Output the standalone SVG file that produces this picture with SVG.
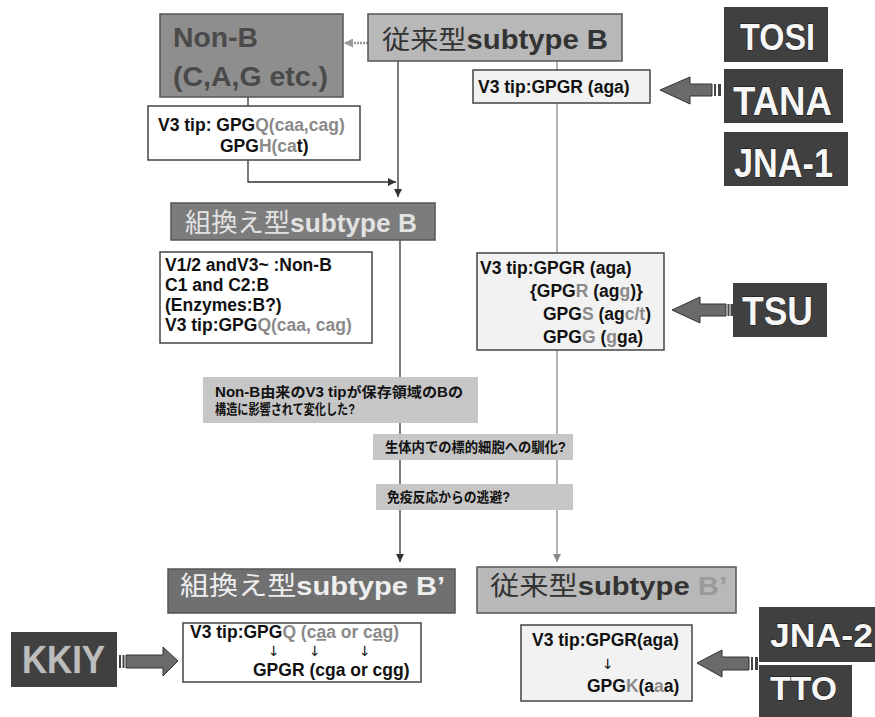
<svg xmlns="http://www.w3.org/2000/svg" width="875" height="717" viewBox="0 0 875 717">
<defs>
<style>
text { font-family: "Liberation Sans", "Noto Sans CJK JP", sans-serif; font-weight: bold; }
.jp { font-weight: normal; }
.t { font-size: 17.5px; fill: #111; }
.g { fill: #8a8a8a; }
.ar { font-family: "DejaVu Sans", sans-serif; font-weight: normal; font-size: 14px; fill: #111; }
.box { fill: #fff; stroke: #444; stroke-width: 1.5; }
.boxs { fill: #f2f2f2; stroke: #444; stroke-width: 1.5; }
.lbl { fill: #404040; }
.lt { fill: #f7f7f7; stroke: #111; stroke-width: 1; paint-order: stroke; }
.note { fill: #c6c6c6; }
.nt { font-size: 14px; fill: #111; }
.ln { fill: none; stroke: #333; stroke-width: 1.3; }
.ln2 { fill: none; stroke: #8a8a8a; stroke-width: 1.3; }
.ba { fill: #6a6a6a; stroke: #333; stroke-width: 1; }
.st { fill: #444; }
</style>
<marker id="ah" viewBox="0 0 10 10" refX="10" refY="5" markerWidth="8" markerHeight="8" markerUnits="userSpaceOnUse" orient="auto"><path d="M0,0 L10,5 L0,10 z" fill="#333"/></marker>
<marker id="ahg" viewBox="0 0 10 10" refX="10" refY="5" markerWidth="8" markerHeight="8" markerUnits="userSpaceOnUse" orient="auto"><path d="M0,0 L10,5 L0,10 z" fill="#888"/></marker>
<marker id="ahd" viewBox="0 0 10 10" refX="10" refY="5" markerWidth="9" markerHeight="9" markerUnits="userSpaceOnUse" orient="auto"><path d="M0,0 L10,5 L0,10 z" fill="#999"/></marker>
</defs>
<rect width="875" height="717" fill="#fff"/>

<g id="connectors">
  <path class="ln2" d="M557,61 V562" marker-end="url(#ahg)"/>
  <path class="ln" d="M398,61 V197" marker-end="url(#ah)"/>
  <path class="ln" d="M400,240 V562" marker-end="url(#ah)"/>
  <path d="M368,43 H344" fill="none" stroke="#999" stroke-width="2.5" stroke-dasharray="2,1" marker-end="url(#ahd)"/>
  <path class="ln" d="M248,97 V106"/>
  <path class="ln" d="M248,160 V182 H396" marker-end="url(#ah)"/>
  <g id="arrow-tana">
    <polygon class="ba" points="660,90 690,77 690,84 712,84 712,96 690,96 690,104"/>
    <rect class="st" x="714" y="84" width="2" height="12"/>
    <rect class="st" x="718" y="84" width="3" height="12"/>
  </g>
  <g id="arrow-tsu">
    <polygon class="ba" points="672,310 700,297 700,304 726,304 726,316 700,316 700,323"/>
    <rect class="st" x="727.5" y="304" width="2" height="12"/>
    <rect class="st" x="730.5" y="304" width="2.5" height="12"/>
  </g>
  <g id="arrow-kkiy">
    <rect class="st" x="119" y="655" width="2" height="13"/>
    <rect class="st" x="122.5" y="655" width="2" height="13"/>
    <polygon class="ba" points="178,661 163,647 163,655 126,655 126,668 163,668 163,676"/>
  </g>
  <g id="arrow-jna2">
    <polygon class="ba" points="697,663 722,650 722,657 749,657 749,670 722,670 722,677"/>
    <rect class="st" x="751" y="657" width="2" height="13"/>
    <rect class="st" x="755" y="657" width="3" height="13"/>
  </g>
</g>

<g id="node-nonB">
  <rect x="160" y="14" width="183" height="83" fill="#8e8e8e" stroke="#555" stroke-width="1.5"/>
  <text x="173" y="47" font-size="27" fill="#4a4a4a" textLength="85" lengthAdjust="spacingAndGlyphs">Non-B</text>
  <text x="173" y="86" font-size="27" fill="#4a4a4a" textLength="155" lengthAdjust="spacingAndGlyphs">(C,A,G etc.)</text>
</g>

<g id="node-juraiB">
  <rect x="368" y="14" width="254" height="47" fill="#b8b8b8" stroke="#555" stroke-width="1.5"/>
  <text x="382" y="49" font-size="27" fill="#333" textLength="226" lengthAdjust="spacingAndGlyphs"><tspan class="jp" font-size="26">従来型</tspan>subtype B</text>
</g>

<g id="node-v3-nonB">
  <rect class="box" x="148" y="106" width="212" height="54"/>
  <text class="t" x="158" y="131">V3 tip: GPG<tspan class="g">Q(caa,cag)</tspan></text>
  <text class="t" x="220" y="152">GPG<tspan class="g">H(ca</tspan>t)</text>
</g>

<g id="node-v3-aga">
  <rect class="boxs" x="473" y="70" width="177" height="33"/>
  <text class="t" x="478" y="93" font-size="18">V3 tip:GPGR (aga)</text>
</g>

<g id="node-TOSI">
  <rect class="lbl" x="724" y="7" width="104" height="55"/>
  <text class="lt" x="740" y="50" font-size="37" textLength="75" lengthAdjust="spacingAndGlyphs">TOSI</text>
</g>
<g id="node-TANA">
  <rect class="lbl" x="724" y="69" width="119" height="54"/>
  <text class="lt" x="733" y="115" font-size="40" textLength="99" lengthAdjust="spacingAndGlyphs">TANA</text>
</g>
<g id="node-JNA1">
  <rect class="lbl" x="724" y="132" width="124" height="54"/>
  <text class="lt" x="734" y="177" font-size="40" textLength="99" lengthAdjust="spacingAndGlyphs">JNA-1</text>
</g>

<g id="node-kumikaeB">
  <rect x="171" y="203" width="264" height="37" fill="#7c7c7c" stroke="#555" stroke-width="1.5"/>
  <text x="185" y="232" font-size="26" fill="#e2e2e2" textLength="232" lengthAdjust="spacingAndGlyphs"><tspan class="jp" font-size="26">組換え型</tspan>subtype B</text>
</g>

<g id="node-v12">
  <rect class="box" x="160" y="252" width="212" height="91"/>
  <text class="t" x="165" y="271">V1/2 andV3~ :Non-B</text>
  <text class="t" x="165" y="291">C1 and C2:B</text>
  <text class="t" x="165" y="311">(Enzymes:B?)</text>
  <text class="t" x="165" y="331">V3 tip:GPG<tspan class="g">Q(caa, cag)</tspan></text>
</g>

<g id="node-v3-tsu">
  <rect class="boxs" x="477" y="253" width="187" height="97"/>
  <text class="t" x="480" y="274" font-size="18.5">V3 tip:GPGR (aga)</text>
  <text class="t" x="530" y="297" font-size="18.5">{GPG<tspan class="g">R</tspan> (ag<tspan class="g">g</tspan>)}</text>
  <text class="t" x="543" y="320" font-size="18.5">GPG<tspan class="g">S</tspan> (ag<tspan class="g">c/t</tspan>)</text>
  <text class="t" x="543" y="343" font-size="18.5">GPG<tspan class="g">G</tspan> (<tspan class="g">g</tspan>ga)</text>
</g>

<g id="node-TSU">
  <rect class="lbl" x="733" y="283" width="94" height="54"/>
  <text class="lt" x="742" y="325" font-size="40" textLength="71" lengthAdjust="spacingAndGlyphs">TSU</text>
</g>

<g id="note-1">
  <rect class="note" x="203" y="377" width="275" height="46"/>
  <text class="nt" x="215" y="397" textLength="248" lengthAdjust="spacingAndGlyphs">Non-B由来のV3 tipが保存領域のBの</text>
  <text class="nt" x="215" y="414" textLength="140" lengthAdjust="spacingAndGlyphs">構造に影響されて変化した?</text>
</g>
<g id="note-2">
  <rect class="note" x="373" y="434" width="200" height="26"/>
  <text class="nt" x="385" y="452" font-size="13.5" font-weight="normal" textLength="181" lengthAdjust="spacingAndGlyphs">生体内での標的細胞への馴化?</text>
</g>
<g id="note-3">
  <rect class="note" x="376" y="484" width="197" height="26"/>
  <text class="nt" x="387" y="502" font-size="13.5" font-weight="normal" textLength="123" lengthAdjust="spacingAndGlyphs">免疫反応からの逃避?</text>
</g>

<g id="node-kumikaeB2">
  <rect x="168" y="569" width="287" height="44" fill="#707070" stroke="#555" stroke-width="1.5"/>
  <text x="180" y="595" font-size="26" fill="#eeeeee" textLength="265" lengthAdjust="spacingAndGlyphs"><tspan class="jp" font-size="26">組換え型</tspan>subtype B’</text>
</g>

<g id="node-juraiB2">
  <rect x="477" y="567" width="259" height="46" fill="#b8b8b8" stroke="#555" stroke-width="1.5"/>
  <text x="490" y="595" font-size="26" fill="#333" textLength="237" lengthAdjust="spacingAndGlyphs"><tspan class="jp" font-size="26">従来型</tspan>subtype <tspan fill="#9a9a9a">B’</tspan></text>
</g>

<g id="node-KKIY">
  <rect class="lbl" x="11" y="632" width="106" height="55"/>
  <text x="22" y="673" font-size="38" fill="#bdbdbd" stroke="#555" stroke-width="0.8" paint-order="stroke" textLength="83" lengthAdjust="spacingAndGlyphs">KKIY</text>
</g>

<g id="node-v3-kkiy">
  <rect class="box" x="183" y="623" width="238" height="59"/>
  <text class="t" x="190" y="638" font-size="17">V3 tip:GPG<tspan class="g">Q (c<tspan text-decoration="underline">a</tspan>a or c<tspan text-decoration="underline">a</tspan>g)</tspan></text>
  <text class="ar" x="268" y="656">↓</text>
  <text class="ar" x="309" y="656">↓</text>
  <text class="ar" x="359" y="656">↓</text>
  <text class="t" x="253" y="676" font-size="17">GPGR (cga or cgg)</text>
</g>

<g id="node-v3-jna2">
  <rect class="boxs" x="521" y="625" width="171" height="76"/>
  <text class="t" x="532" y="646" font-size="18">V3 tip:GPGR(aga)</text>
  <text class="ar" x="602" y="669">↓</text>
  <text class="t" x="587" y="692" font-size="18">GPG<tspan class="g">K</tspan>(a<tspan class="g">a</tspan>a)</text>
</g>

<g id="node-JNA2">
  <rect class="lbl" x="759" y="607" width="116" height="55"/>
  <text class="lt" x="770" y="647" font-size="34" textLength="103" lengthAdjust="spacingAndGlyphs">JNA-2</text>
</g>
<g id="node-TTO">
  <rect class="lbl" x="759" y="665" width="93" height="52"/>
  <text class="lt" x="770" y="700" font-size="34" textLength="67" lengthAdjust="spacingAndGlyphs">TTO</text>
</g>
</svg>
